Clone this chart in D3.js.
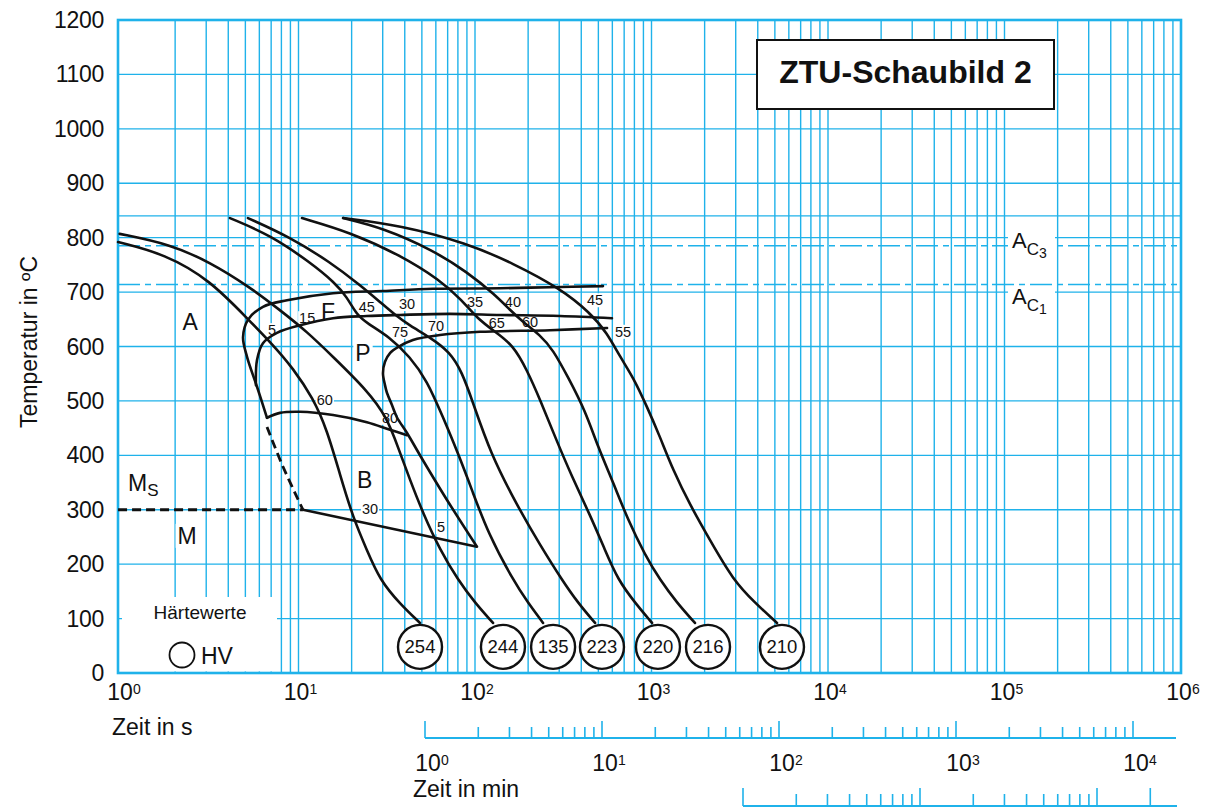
<!DOCTYPE html>
<html>
<head>
<meta charset="utf-8">
<script src="https://cdn.jsdelivr.net/npm/d3@7"></script>
<style>
  html, body { margin: 0; padding: 0; background: #fff; }
  svg { display: block; font-family: "Liberation Sans", Arial, Helvetica, sans-serif; }
</style>
</head>
<body>
<svg id="chart" width="1208" height="809"></svg>
<script>
// ---------- axis values ----------
const secondExponents = [0, 1, 2, 3, 4, 5, 6];
const minuteExponents = [0, 1, 2, 3, 4];
const temperatureTicks = [0, 100, 200, 300, 400, 500, 600, 700, 800, 900, 1000, 1100, 1200];
const austenitizingTemp = [840];
const hourTicks = [1, 2, 3, 4, 5, 6, 7, 8, 9, 10, 20, 30, 40, 50, 60, 70, 80, 90, 100, 200];
const hourMajor = [1, 10, 100, 200];
const ac3Temp = 785;
const ac1Temp = 714;
const msTemp = 300;

// ---------- cooling curves [time in s, temperature in °C] ----------
const cool254 = [[0.95,792],[1.75,770],[3.15,722],[5.11,652],[7.17,603],[9.31,560],[12.1,505],[14.5,447],[17.2,364],[20.4,285],[24.4,226],[28.9,171],[37.6,127],[48.8,92]];
const cool244 = [[0.97,807],[1.87,788],[3.15,755],[5.31,709],[7.85,667],[11.2,627],[15.7,581],[24.4,520],[31.7,470],[36.6,415],[42.8,355],[50.7,294],[63.4,226],[80.1,171],[100,129],[126.5,92]];
const cool135 = [[4.09,836],[6.9,805],[11.6,755],[16.1,717],[18.8,691],[21.4,658],[24.4,643],[33.0,617],[42.8,581],[53.4,538],[65.9,470],[80.1,404],[96.2,336],[118.5,257],[164,171],[199.6,129],[243,92]];
const cool223 = [[5.17,836],[8.95,801],[15.1,755],[22.3,713],[28.9,682],[35.2,658],[42.8,638],[55.6,617],[72.1,590],[84.4,553],[96.2,502],[122,404],[175,305],[234,235],[311,171],[383,129],[479,92]];
const cool220 = [[10.47,836],[19.6,810],[37.6,768],[63.4,722],[84.4,685],[102.6,652],[130,627],[164,603],[197,557],[234,502],[284,434],[355,360],[449,290],[545,226],[646,171],[807,129],[1007,92]];
const cool216 = [[17.9,836],[30.1,818],[57.8,777],[90.1,737],[130,695],[158,667],[187,645],[234,621],[277,594],[336,544],[420,483],[498,415],[605,351],[736,281],[919,217],[1117,171],[1394,129],[1763,92]];
const cool210 = [[17.9,836],[37.6,823],[90.1,790],[164,753],[303,707],[449,662],[560,625],[663,581],[786,544],[944,489],[1117,434],[1324,373],[1652,309],[2145,244],[2897,171],[3857,129],[5141,92]];
const coolingCurves = [cool254, cool244, cool135, cool223, cool220, cool216, cool210];

// hardness (HV) at the end of each cooling curve
const hardnessValues = [254, 244, 135, 223, 220, 216, 210];
const hardnessTimes = [48.8, 144, 277, 524, 1088, 2090, 5486];
const hardnessTemp = 48;

// ---------- transformation lines ----------
const ferriteStart = [[531,711],[266,709],[139,707],[57.8,706],[30.1,702],[15.7,698],[8.61,685],[6.29,673],[5.17,649],[4.85,617],[5.11,581],[5.82,526],[6.63,469]];
const bainiteStart = [[6.63,469],[7.85,478],[10.2,480],[15.7,474],[24.4,461],[33.0,447],[41.2,437]];
const pearliteStart = [[597,652],[303,656],[139,658],[72.1,660],[37.6,658],[24.4,656],[15.7,652],[10.2,639],[7.55,625],[6.29,606],[5.82,575],[5.74,529]];
const pearliteEnd = [[560,634],[266,630],[106.7,627],[63.4,621],[44.5,612],[36.6,599],[33.0,588],[30.9,572],[30.1,551],[30.9,529],[31.7,515],[33.8,493],[36.1,470],[41.2,441],[50.7,391],[69.4,318],[102.6,232]];
const bainiteEnd = [[10.6,300],[102.6,232]];
const msBend = [[6.63,452],[8.17,379],[10.6,300]];
const msLine = [[0.95,300],[10.6,300]];

// ---------- percentage and phase labels [time, temperature, text] ----------
const ferriteLabels = [[7.08,630,"5"],[11.2,652,"15"],[24.4,673,"45"],[41.2,678,"30"],[100,682,"35"],[164,682,"40"],[479,685,"45"]];
const pearliteLabels = [[37.6,627,"75"],[60.1,638,"70"],[133,643,"65"],[205,645,"60"],[690,627,"55"]];
const bainiteLabels = [[14.1,502,"60"],[33.0,469,"80"]];
const martensiteLabels = [[25.4,301,"30"],[64.2,268,"5"]];
const phaseLabels = [[2.43,645,"A"],[14.7,663,"F"],[23.2,588,"P"],[23.7,355,"B"],[2.34,252,"M"]];

// ---------- setup ----------
const svg = d3.select("#chart");
const BLUE = "#1fb2ea";
const INK = "#111";
const frame = { left: 118, right: 1182, top: 20, bottom: 673 };

const x = d3.scaleLog().domain([1, 1e6]).range([122, 1181]);
const y = d3.scaleLinear().domain([0, 1200]).range([673, 20]);
const xMin = d3.scaleLog().domain([1, 1e4]).range([425, 1133]);
const xHour = d3.scaleLog().domain([1, 100]).range([743, 1097]);

const gridLayer = svg.append("g");
const koLayer = svg.append("g");
const frameLayer = svg.append("g");
const curveLayer = svg.append("g");
const circleLayer = svg.append("g");
const textLayer = svg.append("g");

// ---------- grid ----------
const vGrid = x.ticks().filter(d => d > 1 && d < 1e6);
gridLayer.selectAll("line.v").data(vGrid).join("line")
  .attr("x1", d => x(d)).attr("x2", d => x(d))
  .attr("y1", frame.top).attr("y2", frame.bottom)
  .attr("stroke", BLUE).attr("stroke-width", 1.4);

gridLayer.selectAll("line.h").data(temperatureTicks.concat(austenitizingTemp)).join("line")
  .attr("x1", frame.left).attr("x2", frame.right)
  .attr("y1", d => y(d)).attr("y2", d => y(d))
  .attr("stroke", BLUE).attr("stroke-width", 1.4);

// cleared area for the hardness legend
gridLayer.append("rect")
  .attr("x", 122).attr("y", 597).attr("width", 155).attr("height", 74.5)
  .attr("fill", "#fff");

// Ac3 / Ac1 dash-dot lines
gridLayer.selectAll("line.ac").data([ac3Temp, ac1Temp]).join("line")
  .attr("x1", frame.left).attr("x2", frame.right)
  .attr("y1", d => y(d)).attr("y2", d => y(d))
  .attr("stroke", BLUE).attr("stroke-width", 1.5)
  .attr("stroke-dasharray", "22,5,6,5");

// frame
frameLayer.append("rect")
  .attr("x", frame.left).attr("y", frame.top)
  .attr("width", x(1e6) - frame.left).attr("height", frame.bottom - frame.top)
  .attr("fill", "none").attr("stroke", BLUE).attr("stroke-width", 2.6);

// ---------- axes text ----------
textLayer.selectAll("text.yt").data(temperatureTicks).join("text")
  .attr("x", 104).attr("y", d => y(d) + 8)
  .attr("text-anchor", "end").attr("font-size", 23).attr("fill", INK)
  .attr("letter-spacing", -0.3)
  .text(d => d);

function powerLabel(sel, xp, yp, exp) {
  const t = sel.append("text").attr("x", xp).attr("y", yp)
    .attr("text-anchor", "middle").attr("font-size", 23).attr("fill", INK);
  t.append("tspan").text("10");
  t.append("tspan").attr("font-size", 14).attr("dy", -6).text(exp);
}
secondExponents.forEach(e => powerLabel(textLayer, x(Math.pow(10, e)) + 2, 700, e));

textLayer.append("text").attr("x", 112).attr("y", 735)
  .attr("font-size", 23).attr("fill", INK).text("Zeit in s");

// Y title
textLayer.append("text")
  .attr("transform", "translate(37,342) rotate(-90)")
  .attr("text-anchor", "middle").attr("font-size", 23).attr("fill", INK)
  .text("Temperatur in ºC");

// minute axis
const minAxis = svg.append("g");
const minTicks = xMin.ticks();
minAxis.append("line").attr("x1", xMin(1)).attr("x2", 1176)
  .attr("y1", 738).attr("y2", 738).attr("stroke", BLUE).attr("stroke-width", 2);
minAxis.selectAll("line.t").data(minTicks).join("line")
  .attr("x1", d => xMin(d)).attr("x2", d => xMin(d))
  .attr("y1", d => Number.isInteger(Math.log10(d)) ? 721 : 727).attr("y2", 738)
  .attr("stroke", BLUE).attr("stroke-width", 1.6);
minuteExponents.forEach(e => powerLabel(textLayer, xMin(Math.pow(10, e)) + 7, 771, e));
textLayer.append("text").attr("x", 413).attr("y", 797)
  .attr("font-size", 23).attr("fill", INK).text("Zeit in min");

// hour axis
const hourAxis = svg.append("g");
hourAxis.append("line").attr("x1", xHour(1)).attr("x2", 1177)
  .attr("y1", 806).attr("y2", 806).attr("stroke", BLUE).attr("stroke-width", 2);
hourAxis.selectAll("line.t").data(hourTicks).join("line")
  .attr("x1", d => xHour(d)).attr("x2", d => xHour(d))
  .attr("y1", d => hourMajor.includes(d) ? 788 : 794).attr("y2", 806)
  .attr("stroke", BLUE).attr("stroke-width", 1.6);

// ---------- curves ----------
// cooling curves: B-spline for a smooth trace through the read-off points
const smoothLine = d3.line()
  .x(d => x(d[0])).y(d => y(d[1]))
  .curve(d3.curveBasis);
// transformation lines: interpolating spline (keeps the noses)
const line = d3.line()
  .x(d => x(d[0])).y(d => y(d[1]))
  .curve(d3.curveCatmullRom.alpha(0.5));
const straight = d3.line().x(d => x(d[0])).y(d => y(d[1]));

curveLayer.selectAll("path.cool").data(coolingCurves).join("path")
  .attr("d", smoothLine).attr("fill", "none")
  .attr("stroke", INK).attr("stroke-width", 2.6).attr("stroke-linecap", "round");

[ferriteStart, bainiteStart, pearliteStart, pearliteEnd].forEach(pts => {
  curveLayer.append("path").attr("d", line(pts)).attr("fill", "none")
    .attr("stroke", INK).attr("stroke-width", 2.6).attr("stroke-linecap", "round");
});
curveLayer.append("path").attr("d", straight(bainiteEnd))
  .attr("fill", "none").attr("stroke", INK).attr("stroke-width", 2.4);

curveLayer.append("path").attr("d", line(msBend)).attr("fill", "none")
  .attr("stroke", INK).attr("stroke-width", 2.8).attr("stroke-dasharray", "9,5");
curveLayer.append("path").attr("d", straight(msLine))
  .attr("fill", "none").attr("stroke", INK).attr("stroke-width", 3).attr("stroke-dasharray", "9,5");

// ---------- hardness circles ----------
const hv = circleLayer.selectAll("g.hv").data(hardnessValues).join("g")
  .attr("transform", (d, i) => `translate(${x(hardnessTimes[i])},${y(hardnessTemp)})`);
hv.append("circle").attr("r", 22).attr("fill", "#fff")
  .attr("stroke", INK).attr("stroke-width", 2.4);
hv.append("text").attr("text-anchor", "middle").attr("y", 6.5)
  .attr("font-size", 18.5).attr("fill", INK).text(d => d);

// ---------- labels with white backing ----------
function label(tx, ty, str, size, pad) {
  const t = textLayer.append("text")
    .attr("x", x(tx)).attr("y", y(ty))
    .attr("text-anchor", "middle").attr("dominant-baseline", "central")
    .attr("font-size", size).attr("fill", INK).text(str);
  const b = t.node().getBBox();
  koLayer.append("rect").attr("x", b.x - pad).attr("y", b.y + 1)
    .attr("width", b.width + 2 * pad).attr("height", b.height - 2)
    .attr("fill", "#fff");
  return t;
}
ferriteLabels.concat(pearliteLabels, bainiteLabels, martensiteLabels)
  .forEach(d => label(d[0], d[1], d[2], 14.5, 1));
phaseLabels.forEach(d => label(d[0], d[1], d[2], 23, 2));

// Ms
const ms = textLayer.append("text").attr("x", 128).attr("y", 491)
  .attr("font-size", 23).attr("fill", INK);
ms.append("tspan").text("M");
ms.append("tspan").attr("font-size", 17).attr("dy", 5).text("S");

// Ac3 / Ac1 labels
function acLabel(temp, sub, baseY) {
  koLayer.append("rect").attr("x", 1008).attr("y", baseY - 18)
    .attr("width", 47).attr("height", 32).attr("fill", "#fff");
  const t = textLayer.append("text").attr("x", 1012).attr("y", baseY)
    .attr("font-size", 22).attr("fill", INK);
  t.append("tspan").text("A");
  t.append("tspan").attr("font-size", 17).attr("dy", 7).text("C");
  t.append("tspan").attr("font-size", 14).attr("dy", 3).text(sub);
}
acLabel(ac3Temp, "3", 248);
acLabel(ac1Temp, "1", 304);

// hardness legend
textLayer.append("text").attr("x", 200).attr("y", 619)
  .attr("text-anchor", "middle").attr("font-size", 19).attr("fill", INK).text("Härtewerte");
textLayer.append("circle").attr("cx", 182).attr("cy", 655).attr("r", 12.5)
  .attr("fill", "#fff").attr("stroke", INK).attr("stroke-width", 1.8);
textLayer.append("text").attr("x", 201).attr("y", 664)
  .attr("font-size", 23).attr("fill", INK).text("HV");

// title box
textLayer.append("rect").attr("x", 757).attr("y", 40).attr("width", 297).attr("height", 69)
  .attr("fill", "#fff").attr("stroke", INK).attr("stroke-width", 2);
textLayer.append("text").attr("x", 905.5).attr("y", 83)
  .attr("text-anchor", "middle").attr("font-size", 32).attr("font-weight", "bold")
  .attr("fill", INK).text("ZTU-Schaubild 2");
</script>
</body>
</html>
